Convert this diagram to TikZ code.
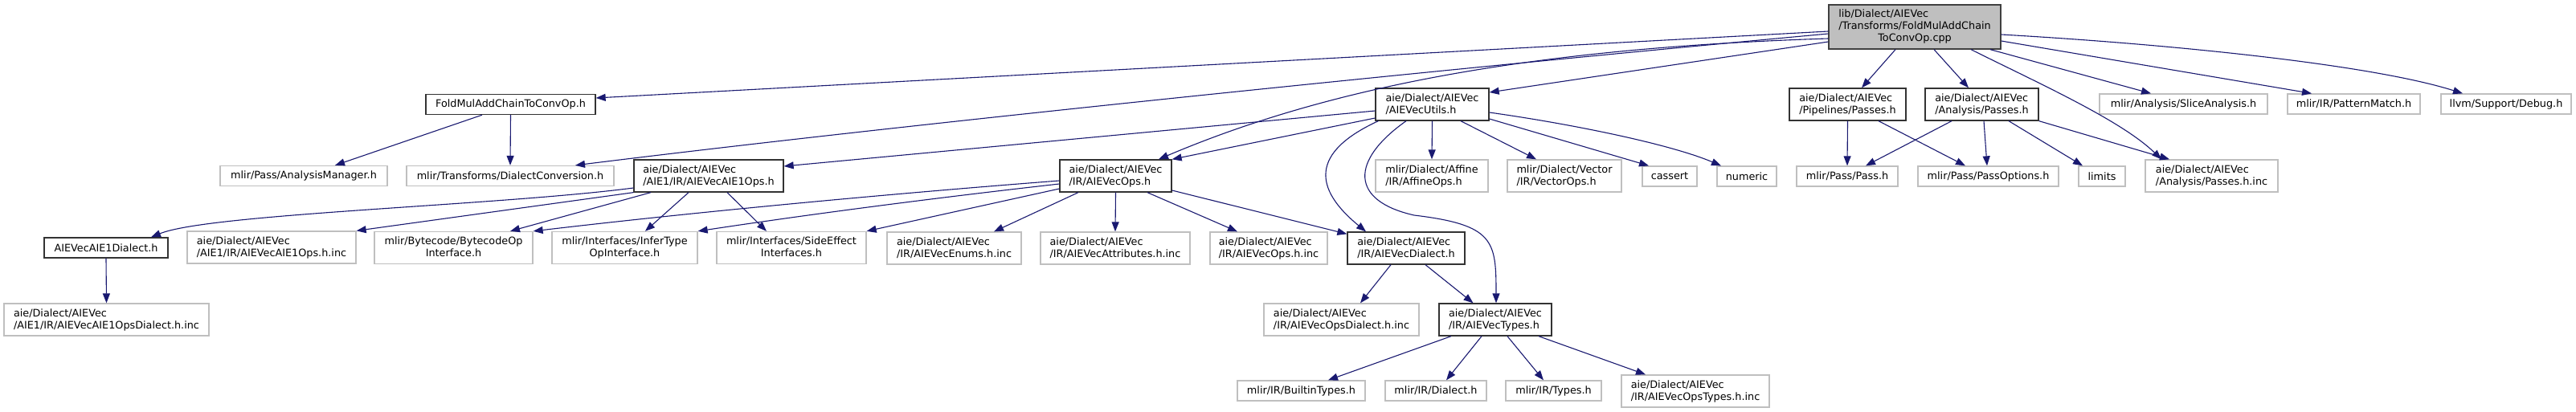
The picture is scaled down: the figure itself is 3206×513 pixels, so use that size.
\documentclass[tikz,border=0pt]{standalone}
\usepackage{fontspec}
\setmainfont{DejaVu Sans}
\usetikzlibrary{arrows.meta}
\definecolor{midnight}{RGB}{25,25,112}
\newcommand{\ctrline}[1]{\multicolumn{1}{@{}c@{}}{#1}}
\begin{document}
\begin{tikzpicture}[x=1pt,y=-1pt,
 font=\fontsize{12.8}{15}\selectfont, >={Triangle[length=12pt,width=9pt]},
 file/.style={draw=black!80,line width=1.3pt,fill=white,inner sep=0pt,
  align=left,minimum height=25pt},
 leaf/.style={file,draw=black!25},
 main/.style={file,fill=black!25,draw=black!75},
 two/.style={minimum height=40pt},
 dep/.style={->,draw=midnight,line width=1.1pt}]
\useasboundingbox (0,0) rectangle (3206,513);
% source file
\node[main,minimum width=214pt,minimum height=55pt] (root) at (2383,33.5)
 {\begin{tabular}{@{}l@{}}lib/Dialect/AIEVec\\/Transforms/FoldMulAddChain\\\ctrline{ToConvOp.cpp}\end{tabular}};
% row 2
\node[file,minimum width=211pt] (fold) at (635.5,130) {FoldMulAddChainToConvOp.h};
\node[file,two,minimum width=141pt] (utils) at (1782.5,130) {aie/Dialect/AIEVec\\/AIEVecUtils.h};
\node[file,two,minimum width=145pt] (pipe) at (2299.5,130) {aie/Dialect/AIEVec\\/Pipelines/Passes.h};
\node[file,two,minimum width=141pt] (anapass) at (2466.5,130) {aie/Dialect/AIEVec\\/Analysis/Passes.h};
\node[leaf,minimum width=209pt] (slice) at (2717.5,129.5) {mlir/Analysis/SliceAnalysis.h};
\node[leaf,minimum width=165pt] (pmatch) at (2929.5,129.5) {mlir/IR/PatternMatch.h};
\node[leaf,minimum width=162pt] (debug) at (3119,129.5) {llvm/Support/Debug.h};
% row 3
\node[leaf,minimum width=208pt] (amgr) at (378,219) {mlir/Pass/AnalysisManager.h};
\node[leaf,minimum width=258pt] (dconv) at (635,219) {mlir/Transforms/DialectConversion.h};
\node[file,two,minimum width=186pt] (aie1ops) at (882,219) {aie/Dialect/AIEVec\\/AIE1/IR/AIEVecAIE1Ops.h};
\node[file,two,minimum width=139pt] (vecops) at (1388.5,219) {aie/Dialect/AIEVec\\/IR/AIEVecOps.h};
\node[leaf,two,minimum width=140pt] (affine) at (1782,219) {mlir/Dialect/Affine\\/IR/AffineOps.h};
\node[leaf,two,minimum width=142pt] (vector) at (1947,219) {mlir/Dialect/Vector\\/IR/VectorOps.h};
\node[leaf,minimum width=68pt] (cassert) at (2078,219.5) {cassert};
\node[leaf,minimum width=74pt] (numeric) at (2174,219.5) {numeric};
\node[leaf,minimum width=126pt] (pass) at (2299,219.5) {mlir/Pass/Pass.h};
\node[leaf,minimum width=175pt] (passopt) at (2474.5,219.5) {mlir/Pass/PassOptions.h};
\node[leaf,minimum width=58pt] (limits) at (2616,219.5) {limits};
\node[leaf,two,minimum width=165pt] (passinc) at (2752.5,219) {aie/Dialect/AIEVec\\/Analysis/Passes.h.inc};
% row 4
\node[file,minimum width=154pt] (aie1dial) at (132,308.5) {AIEVecAIE1Dialect.h};
\node[leaf,two,minimum width=210pt] (aie1inc) at (338,308) {aie/Dialect/AIEVec\\/AIE1/IR/AIEVecAIE1Ops.h.inc};
\node[leaf,two,minimum width=197pt] (bytecode) at (564.5,308.5)
 {\begin{tabular}{@{}l@{}}mlir/Bytecode/BytecodeOp\\\ctrline{Interface.h}\end{tabular}};
\node[leaf,two,minimum width=181pt] (infer) at (777.5,308.5)
 {\begin{tabular}{@{}l@{}}mlir/Interfaces/InferType\\\ctrline{OpInterface.h}\end{tabular}};
\node[leaf,two,minimum width=186pt] (side) at (985,308.5)
 {\begin{tabular}{@{}l@{}}mlir/Interfaces/SideEffect\\\ctrline{Interfaces.h}\end{tabular}};
\node[leaf,two,minimum width=167pt] (enums) at (1187.5,309) {aie/Dialect/AIEVec\\/IR/AIEVecEnums.h.inc};
\node[leaf,two,minimum width=186pt] (attrs) at (1388,309) {aie/Dialect/AIEVec\\/IR/AIEVecAttributes.h.inc};
\node[leaf,two,minimum width=146pt] (opsinc) at (1579,309) {aie/Dialect/AIEVec\\/IR/AIEVecOps.h.inc};
\node[file,two,minimum width=146pt] (vecdial) at (1750,309) {aie/Dialect/AIEVec\\/IR/AIEVecDialect.h};
% row 5
\node[leaf,two,minimum width=255pt] (aie1dinc) at (132.5,398) {aie/Dialect/AIEVec\\/AIE1/IR/AIEVecAIE1OpsDialect.h.inc};
\node[leaf,two,minimum width=193pt] (dialinc) at (1669.5,398) {aie/Dialect/AIEVec\\/IR/AIEVecOpsDialect.h.inc};
\node[file,two,minimum width=140pt] (types) at (1861,398) {aie/Dialect/AIEVec\\/IR/AIEVecTypes.h};
% row 6
\node[leaf,minimum width=159pt] (builtin) at (1619.5,486.5) {mlir/IR/BuiltinTypes.h};
\node[leaf,minimum width=126pt] (irdial) at (1787,486.5) {mlir/IR/Dialect.h};
\node[leaf,minimum width=119pt] (irtypes) at (1933.5,486.5) {mlir/IR/Types.h};
\node[leaf,two,minimum width=184pt] (typesinc) at (2110,487) {aie/Dialect/AIEVec\\/IR/AIEVecOpsTypes.h.inc};

% includes of the source file
\draw[dep] ([yshift=-5.5pt]root.west) -- ([yshift=8pt]fold.east);
\draw[dep] ([yshift=-8.5pt]root.west) .. controls (1776,88) and (1116,156) .. ([xshift=81pt]dconv.north);
\draw[dep] ([yshift=-14.5pt]root.west) .. controls (1900,60) and (1650,110) .. ([xshift=53.5pt]vecops.north);
\draw[dep] ([yshift=-18.5pt]root.west) -- ([yshift=15pt]utils.east);
\draw[dep] ([xshift=-24pt]root.south) -- ([xshift=17.5pt]pipe.north);
\draw[dep] ([xshift=24pt]root.south) -- ([xshift=-16.5pt]anapass.north);
\draw[dep] ([xshift=70pt]root.south) .. controls (2540,105) and (2640,150) .. ([xshift=-62.5pt]passinc.north);
\draw[dep] ([xshift=94pt]root.south) -- ([xshift=-40.5pt]slice.north);
\draw[dep] ([yshift=-17.5pt]root.east) -- ([xshift=-52.5pt]pmatch.north);
\draw[dep] ([yshift=-9.5pt]root.east) .. controls (2700,55) and (2950,80) .. ([xshift=-54pt]debug.north);
% second level
\draw[dep] ([xshift=-35.5pt]fold.south) -- ([xshift=39pt]amgr.north);
\draw[dep] (fold.south) -- (dconv.north);
\draw[dep] ([yshift=-8pt]utils.west) -- ([yshift=12pt]aie1ops.east);
\draw[dep] ([yshift=-17pt]utils.west) -- (vecops.north east);
\draw[dep] ([xshift=4pt]utils.south west) .. controls (1630,190) and (1635,235) .. ([xshift=-50pt]vecdial.north);
\draw[dep] ([xshift=-32.5pt]utils.south) .. controls (1680,200) and (1680,250) .. (1760,268)
 .. controls (1860,280) and (1862,300) .. ([xshift=1pt]types.north);
\draw[dep] (utils.south) -- (affine.north);
\draw[dep] ([xshift=35.5pt]utils.south) -- ([xshift=-35pt]vector.north);
\draw[dep] ([yshift=-18pt]utils.east) -- ([xshift=-26pt]cassert.north);
\draw[dep] ([yshift=-10pt]utils.east) .. controls (1960,155) and (2080,180) .. ([xshift=-32pt]numeric.north);
\draw[dep] (pipe.south) -- (pass.north);
\draw[dep] ([xshift=38.5pt]pipe.south) -- ([xshift=-28.5pt]passopt.north);
\draw[dep] ([xshift=-37.5pt]anapass.south) -- ([xshift=23pt]pass.north);
\draw[dep] ([xshift=2.5pt]anapass.south) -- ([xshift=-1.5pt]passopt.north);
\draw[dep] ([xshift=33.5pt]anapass.south) -- ([xshift=-24pt]limits.north);
\draw[dep] (anapass.south east) -- ([xshift=-52.5pt]passinc.north);
% AIE1 ops
\draw[dep] ([yshift=-15pt]aie1ops.west) .. controls (620,256) and (260,266) .. ([xshift=56pt]aie1dial.north);
\draw[dep] (aie1ops.south west) -- (aie1inc.north east);
\draw[dep] ([xshift=-72pt]aie1ops.south) -- ([xshift=70.5pt]bytecode.north);
\draw[dep] ([xshift=-25pt]aie1ops.south) -- ([xshift=25.5pt]infer.north);
\draw[dep] ([xshift=23pt]aie1ops.south) -- ([xshift=-31pt]side.north);
\draw[dep] (aie1dial.south) -- (aie1dinc.north);
% AIEVec ops
\draw[dep] ([yshift=-6pt]vecops.west) .. controls (1150,238) and (900,260) .. (bytecode.north east);
\draw[dep] ([yshift=-10pt]vecops.west) .. controls (1150,248) and (1000,268) .. (infer.north east);
\draw[dep] ([yshift=-16pt]vecops.west) -- (side.north east);
\draw[dep] ([xshift=-46.5pt]vecops.south) -- ([xshift=49.5pt]enums.north);
\draw[dep] (vecops.south) -- (attrs.north);
\draw[dep] ([xshift=39.5pt]vecops.south) -- ([xshift=-39pt]opsinc.north);
\draw[dep] ([yshift=-18pt]vecops.east) -- ([yshift=-3pt]vecdial.north west);
\draw[dep] ([xshift=-19pt]vecdial.south) -- ([xshift=23.5pt]dialinc.north);
\draw[dep] ([xshift=24pt]vecdial.south) -- ([xshift=-27.5pt]types.north);
% types
\draw[dep] ([xshift=-55pt]types.south) -- ([xshift=33.5pt]builtin.north);
\draw[dep] ([xshift=-17pt]types.south) -- ([xshift=13pt]irdial.north);
\draw[dep] ([xshift=15pt]types.south) -- ([xshift=-12.5pt]irtypes.north);
\draw[dep] ([xshift=54pt]types.south) -- ([xshift=-62pt]typesinc.north);
\end{tikzpicture}
\end{document}
